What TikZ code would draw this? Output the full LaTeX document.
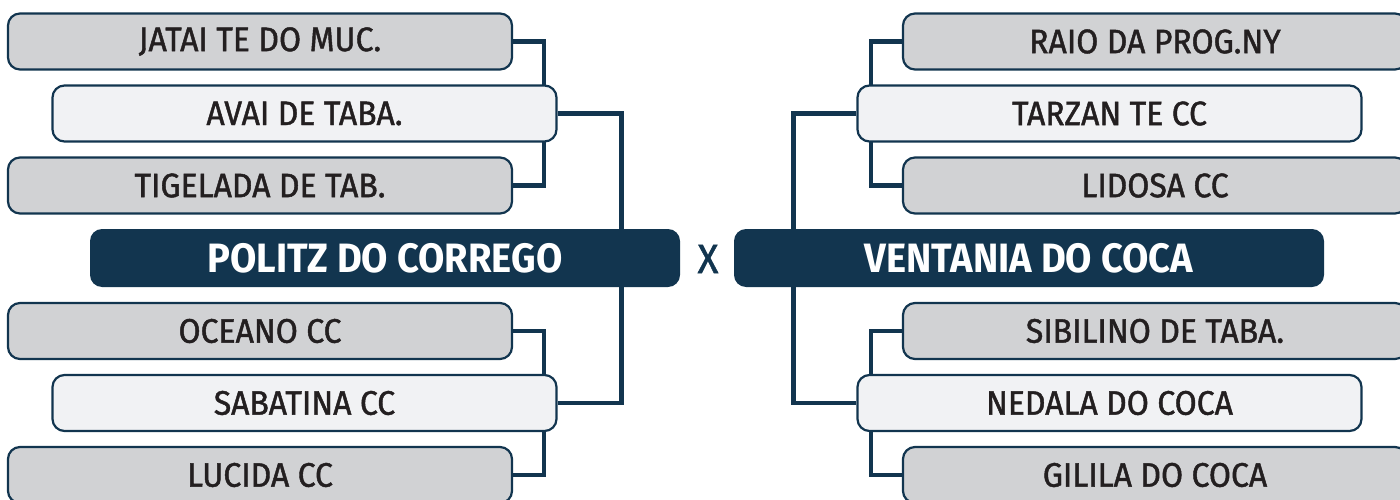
\documentclass[tikz,border=0pt]{standalone}
\usepackage{fontspec}
\newfontfamily\lbl[FakeStretch=0.94,FakeBold=1.3]{Fira Sans}
\newfontfamily\lblb[FakeStretch=0.93]{Fira Sans}
\usetikzlibrary{backgrounds}
\definecolor{navy}{HTML}{12354F}
\definecolor{grayfill}{HTML}{D1D2D4}
\definecolor{lightfill}{HTML}{F1F2F4}
\definecolor{txt}{HTML}{231F20}
\tikzset{
  team/.style={draw=navy, line width=2.2pt, rounded corners=12pt, minimum width=504pt,
    minimum height=56pt, inner sep=0pt, text=txt, font=\lbl\fontsize{34}{36}\selectfont},
  outer/.style={team, fill=grayfill},
  inner/.style={team, fill=lightfill},
  finalist/.style={fill=navy, rounded corners=12pt, minimum width=590pt, minimum height=58pt,
    inner sep=0pt, text=white, font=\lblb\bfseries\fontsize{41}{44}\selectfont},
  conn/.style={draw=navy, line width=4.5pt}
}
\begin{document}
\begin{tikzpicture}[x=1pt,y=-1pt]
\useasboundingbox (0,0) rectangle (1400,500);
% left
\node[outer] (jat) at (260,41.5) {JATAI TE DO MUC.};
\node[inner] (avai) at (304.5,113.5) {AVAI DE TABA.};
\node[outer] (tig) at (260,185.5) {TIGELADA DE TAB.};
\node[finalist] (pol) at (385,258) {POLITZ DO CORREGO};
\node[outer] (oce) at (260,331) {OCEANO CC};
\node[inner] (sab) at (304.5,403) {SABATINA CC};
\node[outer] (luc) at (260,475) {LUCIDA CC};
% center
\node[text=navy, font=\lbl\fontsize{41}{44}\selectfont] (x) at (708,259) {X};
% right
\node[finalist] (ven) at (1029,258) {VENTANIA DO COCA};
\node[outer] (raio) at (1155,41.5) {RAIO DA PROG.NY};
\node[inner] (tar) at (1109.5,113.5) {TARZAN TE CC};
\node[outer] (lid) at (1155,185.5) {LIDOSA CC};
\node[outer] (sib) at (1155,331) {SIBILINO DE TABA.};
\node[inner] (ned) at (1109.5,403) {NEDALA DO COCA};
\node[outer] (gil) at (1155,475) {GILILA DO COCA};
\begin{pgfonlayer}{background}
\draw[conn] (jat.east) -- ++(31,0) |- (tig.east);
\draw[conn] (oce.east) -- ++(31,0) |- (luc.east);
\draw[conn] (avai.east) -- ++(64,0) |- (sab.east);
\draw[conn] (raio.west) -- ++(-31,0) |- (lid.west);
\draw[conn] (sib.west) -- ++(-31,0) |- (gil.west);
\draw[conn] (tar.west) -- ++(-63,0) |- (ned.west);
\end{pgfonlayer}
\end{tikzpicture}
\end{document}
